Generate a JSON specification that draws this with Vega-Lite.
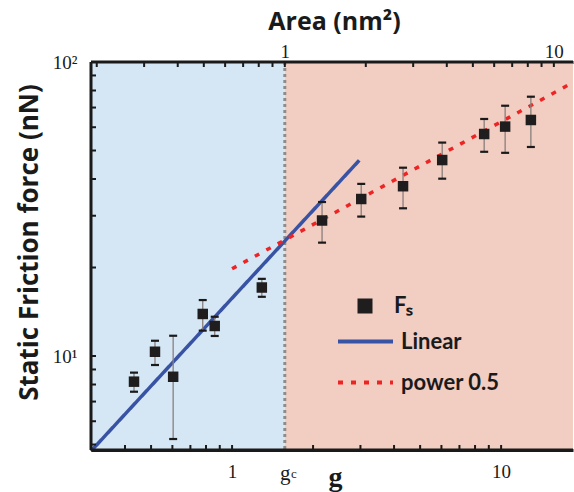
{
  "$schema": "https://vega.github.io/schema/vega-lite/v6.json",
  "width": 482,
  "height": 388,
  "autosize": {"type": "none"},
  "padding": {"left": 91, "top": 62, "right": 1, "bottom": 42},
  "background": "white",
  "config": {
    "view": {"stroke": null},
    "axis": {
      "grid": false,
      "zindex": 2,
      "domain": true,
      "domainColor": "#1a1a1a",
      "domainWidth": 3,
      "tickColor": "#1a1a1a",
      "tickWidth": 2,
      "tickSize": -5,
      "ticks": true,
      "labelFont": "Liberation Serif",
      "labelFontSize": 19,
      "labelColor": "#1a1a1a",
      "labelFlush": false,
      "labelOverlap": false,
      "titleFont": "Open Sans",
      "titleFontWeight": "bold",
      "titleFontSize": 26,
      "titleColor": "#1a1a1a"
    },
    "legend": {
      "labelFont": "Lato",
      "labelFontWeight": "bold",
      "labelFontSize": 22,
      "labelColor": "#1a1a1a",
      "padding": 0
    }
  },
  "datasets": {
    "regions": [
      {"region": "below", "a0": 0.1904, "a1": 1},
      {"region": "above", "a0": 1, "a1": 11.78}
    ],
    "threshold": [{"area": 1}],
    "areaTicks": [
      {"area": 0.2}, {"area": 0.3}, {"area": 0.4}, {"area": 0.5}, {"area": 0.6}, {"area": 0.7}, {"area": 0.8}, {"area": 0.9},
      {"area": 1}, {"area": 2}, {"area": 3}, {"area": 4}, {"area": 5}, {"area": 6}, {"area": 7}, {"area": 8}, {"area": 9}, {"area": 10}
    ],
    "gTicks": [
      {"g": 0.4}, {"g": 0.5}, {"g": 0.6}, {"g": 0.7}, {"g": 0.8}, {"g": 0.9}, {"g": 1},
      {"g": 2}, {"g": 3}, {"g": 4}, {"g": 5}, {"g": 6}, {"g": 7}, {"g": 8}, {"g": 9}, {"g": 10}
    ],
    "fTicks": [
      {"F": 5}, {"F": 6}, {"F": 7}, {"F": 8}, {"F": 9}, {"F": 10},
      {"F": 20}, {"F": 30}, {"F": 40}, {"F": 50}, {"F": 60}, {"F": 70}, {"F": 80}, {"F": 90}
    ],
    "frameH": [{"F": 100}, {"F": 4.79}],
    "frameV": [{"g": 0.299}],
    "points": [
      {"k": "Fₛ", "g": 0.432, "F": 8.18, "lo": 7.56, "hi": 8.78},
      {"k": "Fₛ", "g": 0.517, "F": 10.34, "lo": 9.32, "hi": 11.27},
      {"k": "Fₛ", "g": 0.604, "F": 8.5, "lo": 5.22, "hi": 11.72},
      {"k": "Fₛ", "g": 0.778, "F": 13.9, "lo": 12.2, "hi": 15.5},
      {"k": "Fₛ", "g": 0.862, "F": 12.65, "lo": 11.7, "hi": 13.6},
      {"k": "Fₛ", "g": 1.29, "F": 17.1, "lo": 15.9, "hi": 18.3},
      {"k": "Fₛ", "g": 2.16, "F": 28.9, "lo": 24.3, "hi": 33.4},
      {"k": "Fₛ", "g": 3.02, "F": 34.2, "lo": 29.8, "hi": 38.5},
      {"k": "Fₛ", "g": 4.32, "F": 37.8, "lo": 31.8, "hi": 43.7},
      {"k": "Fₛ", "g": 6.04, "F": 46.4, "lo": 40.1, "hi": 53.2},
      {"k": "Fₛ", "g": 8.65, "F": 56.9, "lo": 49.5, "hi": 64.0},
      {"k": "Fₛ", "g": 10.35, "F": 60.3, "lo": 49.1, "hi": 71.0},
      {"k": "Fₛ", "g": 12.9, "F": 63.5, "lo": 51.4, "hi": 76.2}
    ],
    "fits": [
      {"series": "Linear", "g": 0.299, "F": 4.75},
      {"series": "Linear", "g": 2.97, "F": 46.3},
      {"series": "power 0.5", "g": 1.0, "F": 19.8},
      {"series": "power 0.5", "g": 18.5, "F": 85.2}
    ],
    "sub": [{"g": 1.57, "F": 4.79, "t": "c"}]
  },
  "layer": [
    {
      "layer": [
        {
          "data": {"name": "regions"},
          "transform": [{"filter": "datum.region == 'below'"}],
          "mark": {"type": "rect", "fill": "#d5e7f5"},
          "encoding": {
            "x": {
              "field": "a0", "type": "quantitative",
              "scale": {"type": "log", "domain": [0.1904, 11.78], "nice": false},
              "axis": {
                "orient": "top",
                "values": [0.2, 0.3, 0.4, 0.5, 0.6, 0.7, 0.8, 0.9, 1, 2, 3, 4, 5, 6, 7, 8, 9, 10],
                "labelExpr": "datum.value == 1 ? '1' : datum.value == 10 ? '10' : ''",
                "title": "Area (nm²)",
                "titleFontSize": 25,
                "titleX": 243,
                "titleY": -33,
                "titleAlign": "center",
                "titleBaseline": "alphabetic",
                "labelPadding": 6
              }
            },
            "x2": {"field": "a1"}
          }
        },
        {
          "data": {"name": "regions"},
          "transform": [{"filter": "datum.region == 'above'"}],
          "mark": {"type": "rect", "fill": "#f1cdc2"},
          "encoding": {
            "x": {"field": "a0", "type": "quantitative", "scale": {"type": "log", "domain": [0.1904, 11.78], "nice": false}},
            "x2": {"field": "a1"}
          }
        },
        {
          "data": {"name": "threshold"},
          "mark": {"type": "rule", "color": "#8c8c8c", "strokeWidth": 3, "strokeDash": [3, 3]},
          "encoding": {
            "x": {"field": "area", "type": "quantitative", "scale": {"type": "log", "domain": [0.1904, 11.78], "nice": false}}
          }
        },
        {
          "data": {"name": "areaTicks"},
          "mark": {"type": "tick", "orient": "vertical", "size": 5, "thickness": 2, "color": "#1a1a1a", "opacity": 1, "yOffset": 2.5},
          "encoding": {
            "x": {"field": "area", "type": "quantitative", "scale": {"type": "log", "domain": [0.1904, 11.78], "nice": false}},
            "y": {"datum": 100, "type": "quantitative"}
          }
        }
      ]
    },
    {
      "layer": [
        {
          "data": {"name": "fits"},
          "mark": {"type": "line", "strokeWidth": 3.5, "clip": true, "strokeCap": "butt"},
          "encoding": {
            "x": {
              "field": "g", "type": "quantitative",
              "scale": {"type": "log", "domain": [0.299, 18.5], "nice": false},
              "axis": {
                "orient": "bottom",
                "values": [0.4, 0.5, 0.6, 0.7, 0.8, 0.9, 1, 1.57, 2, 3, 4, 5, 6, 7, 8, 9, 10],
                "labelExpr": "datum.value == 1 ? '1' : datum.value == 10 ? '10' : datum.value == 1.57 ? 'g' : ''",
                "labelFontSize": {"condition": {"test": "datum.value == 1.57", "value": 21}, "value": 19},
                "title": "g",
                "titleFont": "Liberation Serif",
                "titleFontSize": 28,
                "titleX": 244,
                "titleY": 35,
                "titleAlign": "center",
                "titleBaseline": "alphabetic",
                "labelPadding": 17
              }
            },
            "y": {
              "field": "F", "type": "quantitative",
              "scale": {"type": "log", "domain": [4.79, 100], "nice": false},
              "axis": {
                "values": [5, 6, 7, 8, 9, 10, 20, 30, 40, 50, 60, 70, 80, 90, 100],
                "labelExpr": "datum.value == 10 ? '10¹' : datum.value == 100 ? '10²' : ''",
                "title": "Static Friction force (nN)",
                "titleX": -54,
                "titleY": 180,
                "titleAlign": "center",
                "titleBaseline": "alphabetic",
                "labelPadding": 19
              }
            },
            "color": {
              "field": "series", "type": "nominal",
              "scale": {"domain": ["Linear", "power 0.5"], "range": ["#3953a4", "#ee2424"]},
              "legend": {
                "orient": "none", "legendX": 245, "legendY": 250, "title": null,
                "symbolType": "stroke", "symbolSize": 3025, "symbolStrokeWidth": 4,
                "labelOffset": 6, "rowPadding": -14
              }
            },
            "strokeDash": {
              "field": "series", "type": "nominal",
              "scale": {"domain": ["Linear", "power 0.5"], "range": [[1, 0], [5, 8]]},
              "legend": {
                "orient": "none", "legendX": 245, "legendY": 250, "title": null,
                "symbolType": "stroke", "symbolSize": 3025, "symbolStrokeWidth": 4,
                "labelOffset": 6, "rowPadding": -14
              }
            },
            "detail": {"field": "series"}
          }
        },
        {
          "data": {"name": "frameH"},
          "mark": {"type": "rule", "color": "#1a1a1a", "strokeWidth": 3},
          "encoding": {
            "y": {"field": "F", "type": "quantitative"}
          }
        },
        {
          "data": {"name": "frameV"},
          "mark": {"type": "rule", "color": "#1a1a1a", "strokeWidth": 3},
          "encoding": {
            "x": {"field": "g", "type": "quantitative"}
          }
        },
        {
          "data": {"name": "gTicks"},
          "mark": {"type": "tick", "orient": "vertical", "size": 5, "thickness": 2, "color": "#1a1a1a", "opacity": 1, "yOffset": -2.5},
          "encoding": {
            "x": {"field": "g", "type": "quantitative"},
            "y": {"datum": 4.79, "type": "quantitative"}
          }
        },
        {
          "data": {"name": "fTicks"},
          "mark": {"type": "tick", "orient": "horizontal", "size": 5, "thickness": 2, "color": "#1a1a1a", "opacity": 1, "xOffset": 2.5},
          "encoding": {
            "x": {"datum": 0.299, "type": "quantitative"},
            "y": {"field": "F", "type": "quantitative"}
          }
        },
        {
          "data": {"name": "points"},
          "mark": {"type": "rule", "color": "#8a7f7d", "strokeWidth": 1.3},
          "encoding": {
            "x": {"field": "g", "type": "quantitative"},
            "y": {"field": "lo", "type": "quantitative"},
            "y2": {"field": "hi"}
          }
        },
        {
          "data": {"name": "points"},
          "mark": {"type": "tick", "orient": "horizontal", "size": 8, "thickness": 2.2, "color": "#1a1a1a", "opacity": 1},
          "encoding": {
            "x": {"field": "g", "type": "quantitative"},
            "y": {"field": "lo", "type": "quantitative"}
          }
        },
        {
          "data": {"name": "points"},
          "mark": {"type": "tick", "orient": "horizontal", "size": 8, "thickness": 2.2, "color": "#1a1a1a", "opacity": 1},
          "encoding": {
            "x": {"field": "g", "type": "quantitative"},
            "y": {"field": "hi", "type": "quantitative"}
          }
        },
        {
          "data": {"name": "points"},
          "mark": {"type": "point", "filled": true, "size": 110, "color": "#1f1d1e", "opacity": 1},
          "encoding": {
            "x": {"field": "g", "type": "quantitative"},
            "y": {"field": "F", "type": "quantitative"},
            "shape": {
              "field": "k", "type": "nominal",
              "scale": {"domain": ["Fₛ"], "range": ["square"]},
              "legend": {
                "orient": "none", "legendX": 263, "legendY": 233, "title": null,
                "symbolSize": 225, "symbolFillColor": "#1f1d1e", "symbolStrokeColor": "#1f1d1e",
                "labelOffset": 18
              }
            }
          }
        },
        {
          "data": {"name": "sub"},
          "mark": {"type": "text", "font": "Liberation Serif", "fontSize": 13, "color": "#1a1a1a", "dx": 9, "dy": 24},
          "encoding": {
            "x": {"field": "g", "type": "quantitative"},
            "y": {"field": "F", "type": "quantitative"},
            "text": {"field": "t"}
          }
        }
      ]
    }
  ],
  "resolve": {"scale": {"x": "independent"}}
}
